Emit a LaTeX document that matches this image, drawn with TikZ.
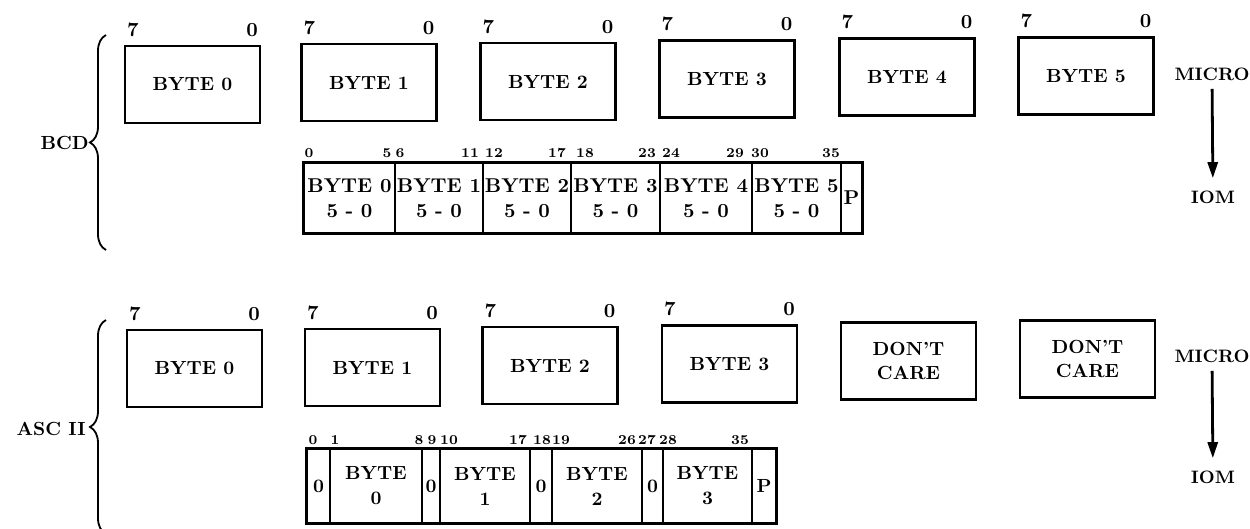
\documentclass[tikz,border=0pt]{standalone}
\usetikzlibrary{arrows.meta, positioning, decorations.pathreplacing}
\begin{document}
\begin{tikzpicture}[x=0.5pt, y=-0.5pt,
    bytebox/.style={draw, line width=1.2pt, minimum width=67.5pt, minimum height=38.5pt,
                    inner sep=0pt, align=center, font=\bfseries\fontsize{9.5}{12}\selectfont},
    cell/.style={draw, line width=0.7pt, inner sep=0pt, align=center},
    bitno/.style={inner sep=0pt, font=\bfseries\fontsize{6.8}{8}\selectfont},
    endno/.style={inner sep=0pt, font=\bfseries\fontsize{10}{11}\selectfont},
    side/.style={inner sep=0pt, font=\bfseries\fontsize{9.5}{10}\selectfont},
    dir/.style={inner sep=1pt, font=\bfseries\fontsize{9}{10}\selectfont},
    flow/.style={-{Triangle[length=8pt,width=5pt]}, line width=1.4pt},
    grp/.style={decorate, decoration={brace, amplitude=8pt}, line width=0.9pt}
  ]
  \useasboundingbox (0,0) rectangle (1250,529);
  \clip (0,0) rectangle (1250,529);

  % BCD: micro bytes
  \foreach \x/\y [count=\i from 0] in {192.5/84.5, 369/82.5, 548/81.5, 727/79, 907/77, 1086/76} {
    \node[bytebox] (bt\i) at (\x,\y) {BYTE \i};
    \node[endno, anchor=south west] (bt\i-hi) at ([shift={(1.5pt,4pt)}]bt\i.north west) {7};
    \node[endno, anchor=south east] (bt\i-lo) at ([shift={(-1.5pt,4pt)}]bt\i.north east) {0};
  }

  % BCD: IOM word
  \foreach \l/\r/\t [count=\i] in {304/395/{BYTE 0\\5 - 0}, 395/483/{BYTE 1\\5 - 0},
      483/571/{BYTE 2\\5 - 0}, 571/660/{BYTE 3\\5 - 0}, 660/752/{BYTE 4\\5 - 0},
      752/841/{BYTE 5\\5 - 0}, 841/862/P} {
    \pgfmathsetmacro\w{(\r-\l)*0.5}
    \node[cell, minimum width=\w pt, minimum height=35pt,
          font=\bfseries\fontsize{10}{12.5}\selectfont] (bc\i) at ({(\l+\r)/2},198) {\t};
  }
  \draw[line width=1.3pt] (bc1.north west) rectangle (bc7.south east);
  \foreach \x/\t [count=\i] in {309/0, 387/5, 400/6, 470/11, 494/12, 557/17, 585/18,
      647/23, 671/24, 735/29, 760/30, 831/35}
    \node[bitno] (bb\i) at (\x,153) {\t};

  \coordinate (bcdtop) at (106,35);
  \coordinate (bcdbot) at (106,250);
  \draw[grp] (bcdbot) -- (bcdtop);
  \node[side, anchor=east] (bcd) at (89,143) {BCD};

  \node[dir] (micro1) at (1212,74) {MICRO};
  \node[dir] (iom1) at (1213,197) {IOM};
  \draw[flow, shorten <=3pt, shorten >=5pt] (micro1) -- (iom1);

  % ASC II: micro bytes
  \foreach \x/\y [count=\i from 0] in {194.5/368.5, 372.5/367.5, 550/365.5, 729.5/364} {
    \node[bytebox] (at\i) at (\x,\y) {BYTE \i};
    \node[endno, anchor=south west] (at\i-hi) at ([shift={(1.5pt,4pt)}]at\i.north west) {7};
    \node[endno, anchor=south east] (at\i-lo) at ([shift={(-1.5pt,4pt)}]at\i.north east) {0};
  }
  \node[bytebox] (dc1) at (908.5,361) {DON'T\\CARE};
  \node[bytebox] (dc2) at (1087.5,359) {DON'T\\CARE};

  % ASC II: IOM word
  \foreach \l/\r/\t [count=\i] in {307/330/0, 330/422/{BYTE\\0}, 422/440/0, 440/530/{BYTE\\1},
      530/552/0, 552/642/{BYTE\\2}, 642/663/0, 663/752/{BYTE\\3}, 752/776/P} {
    \pgfmathsetmacro\w{(\r-\l)*0.5}
    \node[cell, minimum width=\w pt, minimum height=37pt,
          font=\bfseries\fontsize{9.5}{12.5}\selectfont] (ac\i) at ({(\l+\r)/2},486) {\t};
  }
  \draw[line width=1.3pt] (ac1.north west) rectangle (ac9.south east);
  \foreach \x/\t [count=\i] in {313/0, 335/1, 419/8, 432/9, 449/10, 518/17, 542/18,
      561/19, 627/26, 647/27, 668/28, 740/35}
    \node[bitno] (ab\i) at (\x,440) {\t};

  \coordinate (asctop) at (106,320);
  \coordinate (ascbot) at (106,534);
  \draw[grp] (ascbot) -- (asctop);
  \node[side, anchor=east] (asc) at (86,429) {ASC II};

  \node[dir] (micro2) at (1212,356) {MICRO};
  \node[dir] (iom2) at (1213,477) {IOM};
  \draw[flow, shorten <=3pt, shorten >=5pt] (micro2) -- (iom2);
\end{tikzpicture}
\end{document}
